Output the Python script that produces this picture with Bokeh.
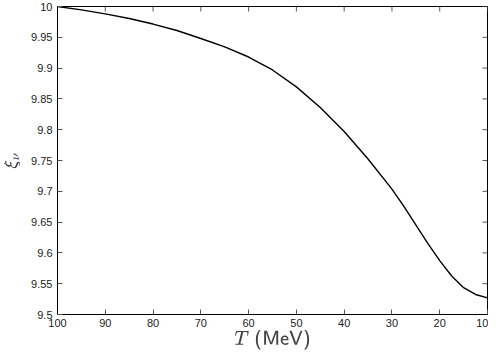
import math
from bokeh.plotting import figure
from bokeh.models import Range1d, FixedTicker
from bokeh.embed import file_html
from bokeh.resources import INLINE

# data
T = [100, 95, 90, 85, 80, 75, 70, 65, 60, 55, 50, 45, 40, 35, 30, 27.5, 25, 22.5, 20, 17.5, 15, 12.5, 10]
xi = [10.0, 9.9945, 9.988, 9.9805, 9.9715, 9.961, 9.948, 9.9345, 9.918, 9.897, 9.8695, 9.836,
      9.797, 9.7525, 9.7035, 9.6755, 9.6455, 9.6155, 9.5875, 9.5625, 9.5435, 9.5325, 9.527]

x_ticks = [100, 90, 80, 70, 60, 50, 40, 30, 20, 10]
y_ticks = [9.5, 9.55, 9.6, 9.65, 9.7, 9.75, 9.8, 9.85, 9.9, 9.95, 10.0]
y_tick_labels = ["9.5", "9.55", "9.6", "9.65", "9.7", "9.75", "9.8", "9.85", "9.9", "9.95", "10"]
x_lo, x_hi = 100, 10
y_lo, y_hi = 9.5, 10.0

p = figure(width=488, height=352, output_backend="svg", toolbar_location=None,
           x_range=Range1d(x_lo, x_hi), y_range=Range1d(y_lo, y_hi),
           min_border_left=48, min_border_right=1, min_border_top=6, min_border_bottom=30)
p.outline_line_color = "black"
p.outline_line_width = 1
p.grid.visible = False
p.background_fill_color = "white"
p.border_fill_color = "white"

p.line(T, xi, line_color="black", line_width=1.4)

# mirrored inward ticks on top and right
p.ray(x=x_ticks, y=[y_hi] * len(x_ticks), length=5, length_units="screen",
      angle=-math.pi / 2, line_color="#555555", line_width=1)
p.ray(x=[x_hi] * len(y_ticks), y=y_ticks, length=5, length_units="screen",
      angle=math.pi, line_color="#555555", line_width=1)

def style(ax):
    ax.major_tick_in = 5
    ax.major_tick_out = 0
    ax.minor_tick_in = 0
    ax.minor_tick_out = 0
    ax.axis_line_color = "black"
    ax.major_tick_line_color = "#555555"
    ax.major_tick_line_width = 1
    ax.major_label_text_font = "Liberation Sans"
    ax.major_label_text_font_size = "11px"
    ax.major_label_text_color = "#222222"

xa = p.xaxis[0]
xa.ticker = FixedTicker(ticks=x_ticks)
style(xa)
xa.major_label_standoff = 4
xa.axis_label = r"$$T\;\mathsf{(MeV)}$$"
xa.axis_label_text_font_size = "17px"
xa.axis_label_standoff = 0

ya = p.yaxis[0]
ya.ticker = FixedTicker(ticks=y_ticks)
ya.major_label_overrides = {t: l for t, l in zip(y_ticks, y_tick_labels)}
style(ya)
ya.major_label_standoff = 5
ya.axis_label = r"$$\xi_\nu$$"
ya.axis_label_text_font_size = "14px"
ya.axis_label_standoff = 8

open("out.html", "w").write(file_html(p, INLINE))
